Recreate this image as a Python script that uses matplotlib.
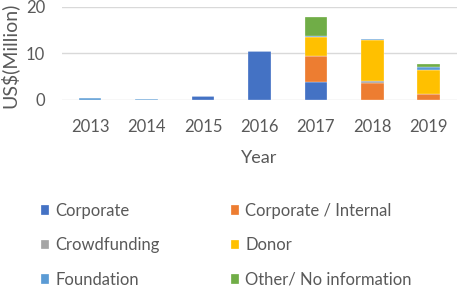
import matplotlib
matplotlib.use('Agg')
import matplotlib.pyplot as plt
import numpy as np

years = ['2013', '2014', '2015', '2016', '2017', '2018', '2019']

# values in US$ million
corporate = [0.0, 0.0, 0.9, 10.5, 3.9, 0.0, 0.0]
corporate_internal = [0.0, 0.0, 0.0, 0.0, 5.5, 3.7, 1.2]
crowdfunding = [0.0, 0.1, 0.0, 0.0, 0.0, 0.3, 0.0]
donor = [0.0, 0.0, 0.0, 0.0, 4.1, 8.9, 5.2]
foundation = [0.35, 0.15, 0.0, 0.0, 0.2, 0.2, 0.7]
other = [0.0, 0.0, 0.0, 0.0, 4.0, 0.0, 0.6]

series = [
    ('Corporate', corporate, '#4472C4'),
    ('Corporate / Internal', corporate_internal, '#ED7D31'),
    ('Crowdfunding', crowdfunding, '#A5A5A5'),
    ('Donor', donor, '#FFC000'),
    ('Foundation', foundation, '#5B9BD5'),
    ('Other/ No information', other, '#70AD47'),
]

text_color = '#595959'
plt.rcParams['font.family'] = ['Lato', 'DejaVu Sans']

W, H = 457, 287
fig = plt.figure(figsize=(W / 100, H / 100), dpi=100)
ax = fig.add_axes([62 / W, 1 - 100 / H, 1 - 62 / W, 93.5 / H])

x = np.arange(len(years))
bottom = np.zeros(len(years))
handles = {}
for name, vals, color in series:
    vals = np.array(vals)
    b = ax.bar(x, vals, width=0.4, bottom=bottom, color=color,
               edgecolor='white', linewidth=0.2, zorder=3, label=name)
    handles[name] = b
    bottom += vals

ax.set_xlim(-0.5, 6.5)
ax.set_ylim(0, 20)
ax.set_yticks([0, 10, 20])
ax.set_xticks(x)
ax.set_xticklabels(years)
ax.grid(axis='y', color='#D9D9D9', linewidth=1, zorder=0)
ax.set_axisbelow(True)
for s in ax.spines.values():
    s.set_visible(False)
ax.tick_params(length=0, labelsize=12, colors=text_color)
ax.tick_params(axis='x', pad=13.5)
ax.tick_params(axis='y', pad=12)
ax.set_ylabel('US$(Million)', fontsize=14, color=text_color)
ax.yaxis.set_label_coords(-0.11, 0.48)
ax.set_xlabel('Year', fontsize=13, color=text_color, labelpad=11)

# legend in two columns, placed separately so the column positions match
cols = [['Corporate', 'Crowdfunding', 'Foundation'],
        ['Corporate / Internal', 'Donor', 'Other/ No information']]
for names, x0 in zip(cols, [41, 231]):
    leg = fig.legend([handles[n] for n in names], names, loc='upper left',
                     bbox_to_anchor=(x0 / W, 1 - 203 / H), frameon=False,
                     fontsize=12, handlelength=0.5, handleheight=0.5,
                     handletextpad=0.35, labelspacing=1.1,
                     borderpad=0, borderaxespad=0)
    for t in leg.get_texts():
        t.set_color(text_color)

fig.savefig('out.png', dpi=100)
